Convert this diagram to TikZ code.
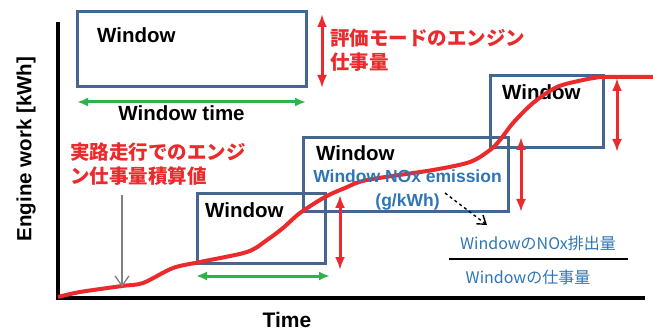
\documentclass[tikz,border=0pt]{standalone}
\usepackage{fontspec}
\setmainfont{Liberation Sans}
\newfontfamily\jpfont{Noto Sans CJK JP}
\usetikzlibrary{arrows.meta}

\definecolor{winblue}{HTML}{44668F}
\definecolor{workred}{HTML}{EA2A2C}
\definecolor{timegreen}{HTML}{2DB34A}
\definecolor{noxblue}{HTML}{2E75B6}

\begin{document}
\begin{tikzpicture}[x=1pt,y=-1pt,
	winbox/.style={draw=winblue,line width=3pt,rectangle,inner sep=0pt},
	wintext/.style={anchor=west,inner sep=0pt,font=\fontsize{20.5}{24}\selectfont\bfseries},
	redtext/.style={anchor=west,inner sep=0pt,align=left,text=workred,font=\fontsize{19.5}{24}\selectfont\jpfont\bfseries},
	redarrow/.style={draw=workred,line width=3pt,{Latex[length=13pt,width=10pt]}-{Latex[length=13pt,width=10pt]}},
	greenarrow/.style={draw=timegreen,line width=3pt,{Latex[length=11pt,width=9pt]}-{Latex[length=11pt,width=9pt]}},
	fractext/.style={inner sep=0pt,text=noxblue,font=\fontsize{16}{18}\selectfont\jpfont}]
	\useasboundingbox (0,0) rectangle (653,331);

	% axes
	\coordinate (ytop) at (58,22);
	\coordinate (origin) at (58,298);
	\coordinate (xend) at (645,298);
	\draw[line width=4pt] (ytop) -- (origin) -- (xend);
	\node[rotate=90,font=\fontsize{20.5}{24}\selectfont\bfseries] (ylab) at (26,149) {Engine work [kWh]};
	\node[font=\fontsize{21}{24}\selectfont\bfseries] (xlab) at (287,320) {Time};

	% windows
	\node[winbox,minimum width=229pt,minimum height=75pt] (box1) at (191.5,49.5) {};
	\node[winbox,minimum width=205pt,minimum height=74pt] (box3) at (405.5,175) {};
	\node[winbox,minimum width=128pt,minimum height=69pt] (box4) at (261,228.5) {};
	\node[winbox,minimum width=113pt,minimum height=72pt] (box2) at (546.5,112) {};
	\node[wintext] (win1) at (97,35) {Window};
	\node[wintext] (win2) at (502,92) {Window};
	\node[wintext] (win3) at (316,153) {Window};
	\node[wintext] (win4) at (205,210) {Window};

	% accumulated engine work
	\draw[workred,line width=4pt,line join=round] plot[smooth,tension=0.5] coordinates {
		(58,297) (80,292) (122,286) (143,283) (173,268) (200,262) (247,252) (267,240)
		(283,228) (300,213) (325,197) (345,188) (367,180) (433,170) (470,162) (490,150)
		(500,140) (513,123) (533,103) (557,87) (583,80) (600,77)} -- (653,77);

	% window work arrows
	\coordinate (r1a) at (322,14);  \coordinate (r1b) at (322,88);
	\coordinate (r2a) at (617,78);  \coordinate (r2b) at (617,152);
	\coordinate (r3a) at (521,137); \coordinate (r3b) at (521,212);
	\coordinate (r4a) at (340,195); \coordinate (r4b) at (340,270);
	\draw[redarrow] (r1a) -- (r1b);
	\draw[redarrow] (r2a) -- (r2b);
	\draw[redarrow] (r3a) -- (r3b);
	\draw[redarrow] (r4a) -- (r4b);
	\node[redtext] (modework) at (330,50) {評価モードのエンジン\\仕事量};
	\node[redtext] (realwork) at (70,164) {実路走行でのエンジ\\ン仕事量積算値};

	% window time
	\coordinate (g1a) at (77,102); \coordinate (g1b) at (306,102);
	\draw[greenarrow] (g1a) -- (g1b);
	\node[font=\fontsize{20.5}{24}\selectfont\bfseries] (wtime) at (181.5,113) {Window time};
	\coordinate (g2a) at (196,276); \coordinate (g2b) at (330,276);
	\draw[greenarrow] (g2a) -- (g2b);

	% pointer to the curve
	\coordinate (gtop) at (122,195); \coordinate (gbot) at (122,287);
	\draw[gray,line width=1.3pt,-{Straight Barb[length=10pt,width=14pt]}] (gtop) -- (gbot);

	% NOx emission
	\node[align=center,text=noxblue,font=\fontsize{17.5}{24}\selectfont\bfseries] (nox) at (407.5,190) {Window NOx emission\\(g/kWh)};
	\node[fractext] (numer) at (538,243) {WindowのNOx排出量};
	\node[fractext] (denom) at (528,277) {Windowの仕事量};
	\coordinate (fl) at (449,259); \coordinate (fr) at (628,259);
	\draw[line width=2pt] (fl) -- (fr);
	\coordinate (da) at (445,193); \coordinate (db) at (487,225);
	\draw[dashed,line width=1.4pt,-{Straight Barb[length=8pt,width=11pt]}] (da) -- (db);
\end{tikzpicture}
\end{document}
